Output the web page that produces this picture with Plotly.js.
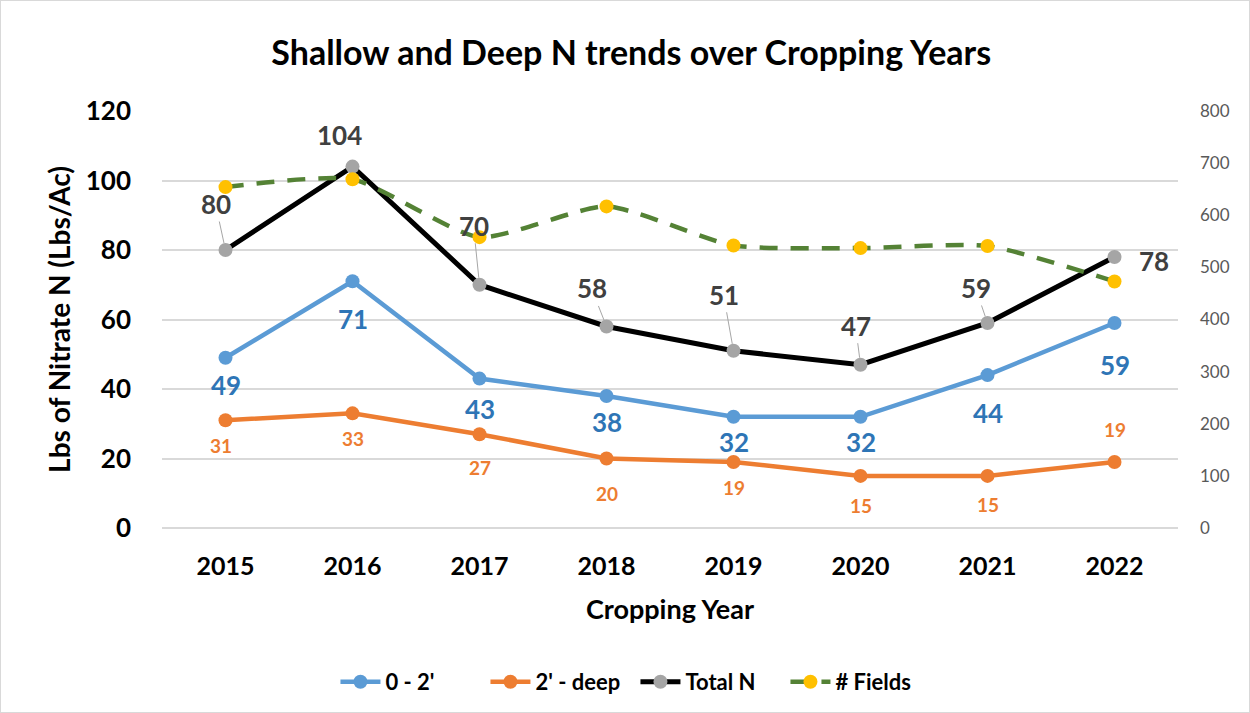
<!DOCTYPE html>
<html>
<head>
<meta charset="utf-8">
<script src="https://cdn.plot.ly/plotly-3.0.1.min.js"></script>
<style>
html,body{margin:0;padding:0;background:#fff;}
#chart{width:1250px;height:713px;box-sizing:border-box;border:1px solid #d9d9d9;}
</style>
</head>
<body>
<div id="chart"></div>
<script>
const years = ['2015','2016','2017','2018','2019','2020','2021','2022'];
const shallow = [49, 71, 43, 38, 32, 32, 44, 59];
const deep = [31, 33, 27, 20, 19, 15, 15, 19];
const totalN = [80, 104, 70, 58, 51, 47, 59, 78];
const fields = [654, 669, 558, 617, 542, 537, 541, 473];

const FONT = 'Lato, "Open Sans", sans-serif';

const traces = [
  {x: years, y: shallow, name: "0 - 2'", type: 'scatter', mode: 'lines+markers',
   line: {color: '#5B9BD5', width: 4.5}, marker: {color: '#5B9BD5', size: 14}},
  {x: years, y: deep, name: "2' - deep", type: 'scatter', mode: 'lines+markers',
   line: {color: '#ED7D31', width: 4.5}, marker: {color: '#ED7D31', size: 14}},
  {x: years, y: totalN, name: 'Total N', type: 'scatter', mode: 'lines+markers',
   line: {color: '#000000', width: 5}, marker: {color: '#A5A5A5', size: 14}},
  {x: years, y: fields, name: '# Fields', type: 'scatter', mode: 'lines+markers', yaxis: 'y2',
   line: {color: '#548235', width: 4.5, dash: '18px,13px', shape: 'spline', smoothing: 0.6},
   marker: {color: '#FFC000', size: 14}}
];

const totalOff = [[-10,-46,1],[-13,-32,0],[-6,-59,1],[-15,-38,1],[-10,-56,1],[-5,-39,1],[-12,-35,1],[39,4,0]];
const shallowOff = [27,38,30,26,25,25,38,42];
const deepOff = [[-5,25],[0,25],[0,33],[0,35],[0,26],[0,30],[0,29],[0,-32]];

const annotations = [];
for (let i = 0; i < years.length; i++) {
  const o = totalOff[i];
  const a = {x: i, y: totalN[i], xref: 'x', yref: 'y', text: String(totalN[i]),
    font: {family: FONT, size: 26, color: '#404040'}};
  if (o[2]) {
    a.showarrow = true; a.ax = o[0]; a.ay = o[1]; a.arrowhead = 0; a.arrowwidth = 1;
    a.arrowcolor = '#A6A6A6'; a.standoff = 7;
  } else {
    a.showarrow = false; a.xshift = o[0]; a.yshift = -o[1];
  }
  annotations.push(a);
  annotations.push({x: i, y: shallow[i], xref: 'x', yref: 'y', text: String(shallow[i]),
    showarrow: false, yshift: -shallowOff[i],
    font: {family: FONT, size: 26, color: '#2E75B6'}});
  annotations.push({x: i, y: deep[i], xref: 'x', yref: 'y', text: String(deep[i]),
    showarrow: false, xshift: deepOff[i][0], yshift: -deepOff[i][1],
    font: {family: FONT, size: 19, color: '#ED7D31'}});
}
annotations.forEach(a => { a.text = '<b>' + a.text + '</b>'; });

const layout = {
  width: 1248, height: 711,
  margin: {l: 161, r: 71, t: 110, b: 184},
  paper_bgcolor: '#ffffff', plot_bgcolor: '#ffffff',
  font: {family: FONT},
  title: {text: '<b>Shallow and Deep N trends over Cropping Years</b>', x: 0.505, xanchor: 'center', y: 0.927, yanchor: 'middle',
    font: {family: FONT, size: 34, color: '#000000'}},
  xaxis: {type: 'category', range: [-0.5, 7.5], automargin: false, showgrid: false, zeroline: false, showline: false, ticks: '',
    tickfont: {family: FONT, size: 25, color: '#000000', weight: 'bold'}, ticklabelstandoff: 21,
    title: {text: '<b>Cropping Year</b>', font: {family: FONT, size: 27, color: '#000000'}, standoff: 21}},
  yaxis: {range: [0, 120], dtick: 20, automargin: false, showgrid: true, gridcolor: '#d9d9d9', gridwidth: 1.5, zeroline: true, zerolinecolor: '#d9d9d9', zerolinewidth: 1.5,
    showline: false, ticks: '', tickfont: {family: FONT, size: 26, color: '#000000', weight: 'bold'}, ticklabelstandoff: 30,
    title: {text: '<b>Lbs of Nitrate N (Lbs/Ac)</b>', font: {family: FONT, size: 28, color: '#000000'}, standoff: 6}},
  yaxis2: {range: [0, 800], dtick: 100, automargin: false, overlaying: 'y', side: 'right', showgrid: false, zeroline: false, showline: false, ticks: '',
    tickfont: {family: FONT, size: 17, color: '#595959'}, ticklabelstandoff: 21},
  showlegend: true,
  legend: {orientation: 'h', x: 0.466, xanchor: 'center', yref: 'container', y: 0.0422, yanchor: 'middle',
    font: {family: FONT, size: 22, color: '#000000', weight: 'bold'}, itemwidth: 40, entrywidth: 95, traceorder: 'normal'},
  annotations: annotations
};

Plotly.newPlot('chart', traces, layout, {displayModeBar: false, responsive: false});
</script>
</body>
</html>
